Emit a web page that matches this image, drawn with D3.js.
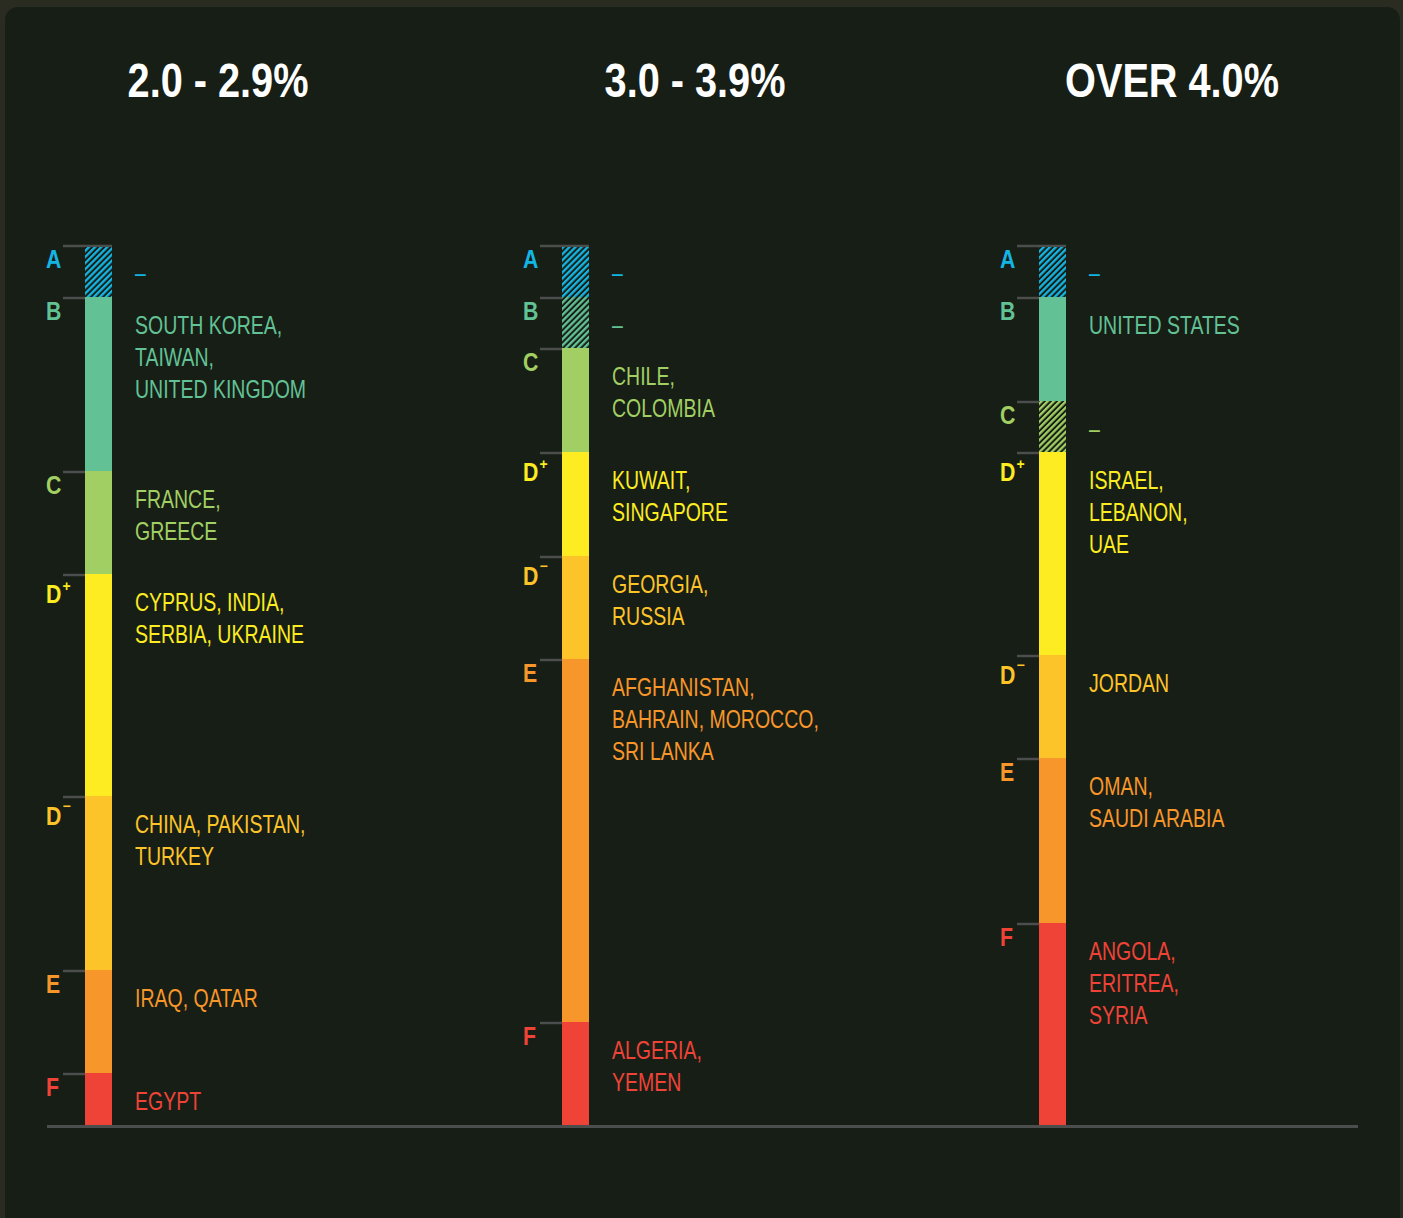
<html>
<head>
<script src="https://d3js.org/d3.v7.min.js"></script>
<style>
  body { margin: 0; background: #2a2c22; }
  svg text { font-family: "Liberation Sans", Arial, sans-serif; }
</style>
</head>
<body>
<svg id="chart" width="1403" height="1218"></svg>
<script>
// ----- data -----
var headers = ["2.0 - 2.9%", "3.0 - 3.9%", "OVER 4.0%"];
var gradeLetters = ["A", "B", "C", "D", "D", "E", "F"];
var gradeMarks = ["", "", "", "+", "\u2212", "", ""];
var gradeColors = ["#14b5e3", "#62c296", "#a2cf63", "#fcec21", "#fdc42a", "#f7962a", "#ef4338"];

// segment sizes (share of the bar) per grade
var shares1 = [52, 174, 103, 222, 174, 103, 52];
var shares2 = [52, 51, 104, 104, 103, 363, 103];
var shares3 = [52, 104, 51, 203, 103, 165, 202];

var countries1 = [[], ["SOUTH KOREA,", "TAIWAN,", "UNITED KINGDOM"], ["FRANCE,", "GREECE"],
  ["CYPRUS, INDIA,", "SERBIA, UKRAINE"], ["CHINA, PAKISTAN,", "TURKEY"], ["IRAQ, QATAR"], ["EGYPT"]];
var countries2 = [[], [], ["CHILE,", "COLOMBIA"], ["KUWAIT,", "SINGAPORE"], ["GEORGIA,", "RUSSIA"],
  ["AFGHANISTAN,", "BAHRAIN, MOROCCO,", "SRI LANKA"], ["ALGERIA,", "YEMEN"]];
var countries3 = [[], ["UNITED STATES"], [], ["ISRAEL,", "LEBANON,", "UAE"], ["JORDAN"],
  ["OMAN,", "SAUDI ARABIA"], ["ANGOLA,", "ERITREA,", "SYRIA"]];

var allShares = [shares1, shares2, shares3];
var allCountries = [countries1, countries2, countries3];

// ----- layout -----
var svg = d3.select("#chart");
var barW = 27;

// condensed text: no narrow font installed, so squeeze horizontally
function squeezed(parent, tx, ty, sx) {
  return parent.append("g")
    .attr("transform", "translate(" + tx + "," + ty + ") scale(" + sx + ",1)")
    .append("text");
}

svg.append("rect")
  .attr("x", 5).attr("y", 7)
  .attr("width", 1395).attr("height", 1240)
  .attr("rx", 13)
  .attr("fill", "#171e15");

var defs = svg.append("defs");
gradeColors.forEach(function(c, i) {
  var p = defs.append("pattern")
    .attr("id", "hatch" + i)
    .attr("patternUnits", "userSpaceOnUse")
    .attr("width", 4.3).attr("height", 4.3)
    .attr("patternTransform", "rotate(45)");
  p.append("rect").attr("width", 4.3).attr("height", 4.3).attr("fill", "#171e15");
  p.append("rect").attr("width", 2.3).attr("height", 4.3).attr("fill", c);
});

var x = d3.scalePoint()
  .domain(headers)
  .range([85, 1039]);

var total = d3.sum(shares1);
var y = d3.scaleLinear()
  .domain([0, total])
  .range([245, 1125]);

// baseline
svg.append("line")
  .attr("x1", 47).attr("x2", 1358)
  .attr("y1", 1126.5).attr("y2", 1126.5)
  .attr("stroke", "#4b4e4d")
  .attr("stroke-width", 3);

headers.forEach(function(h, ci) {
  var bx = x(h);
  var shares = allShares[ci];
  var countries = allCountries[ci];
  var starts = d3.cumsum([0].concat(shares));

  var g = svg.append("g");

  squeezed(g, bx + 133, 97, 0.81)
    .attr("text-anchor", "middle")
    .attr("fill", "#ffffff")
    .style("font-weight", "bold")
    .style("font-size", "49px")
    .text(h);

  shares.forEach(function(v, i) {
    var top = y(starts[i]);
    var bot = y(starts[i] + v);
    var empty = countries[i].length == 0;
    var col = gradeColors[i];
    var hasMark = gradeMarks[i] != "";

    // tick
    g.append("line")
      .attr("x1", bx - 22).attr("x2", bx + (i == 0 ? barW : 0))
      .attr("y1", top + 1).attr("y2", top + 1)
      .attr("stroke", "#4b4e4d")
      .attr("stroke-width", 2.5);

    g.append("rect")
      .attr("x", bx).attr("y", top + (i == 0 ? 2 : 0))
      .attr("width", barW).attr("height", bot - top - (i == 0 ? 2 : 0))
      .attr("fill", empty ? "url(#hatch" + i + ")" : col);

    squeezed(g, bx - 39, top + (hasMark ? 29 : 23), 0.85)
      .attr("fill", col)
      .style("font-weight", "bold")
      .style("font-size", "25px")
      .text(gradeLetters[i]);

    if (hasMark) {
      g.append("text")
        .attr("x", bx - 22.5).attr("y", top + (i == 3 ? 17 : 15))
        .attr("fill", col)
        .style("font-weight", "bold")
        .style("font-size", "14px")
        .text(gradeMarks[i]);
    }

    var lines = empty ? ["\u2013"] : countries[i];
    lines.forEach(function(t, k) {
      squeezed(g, bx + 50, top + 37 + k * 32, 0.75)
        .attr("fill", col)
        .style("font-size", "26px")
        .text(t);
    });
  });
});
</script>
</body>
</html>
